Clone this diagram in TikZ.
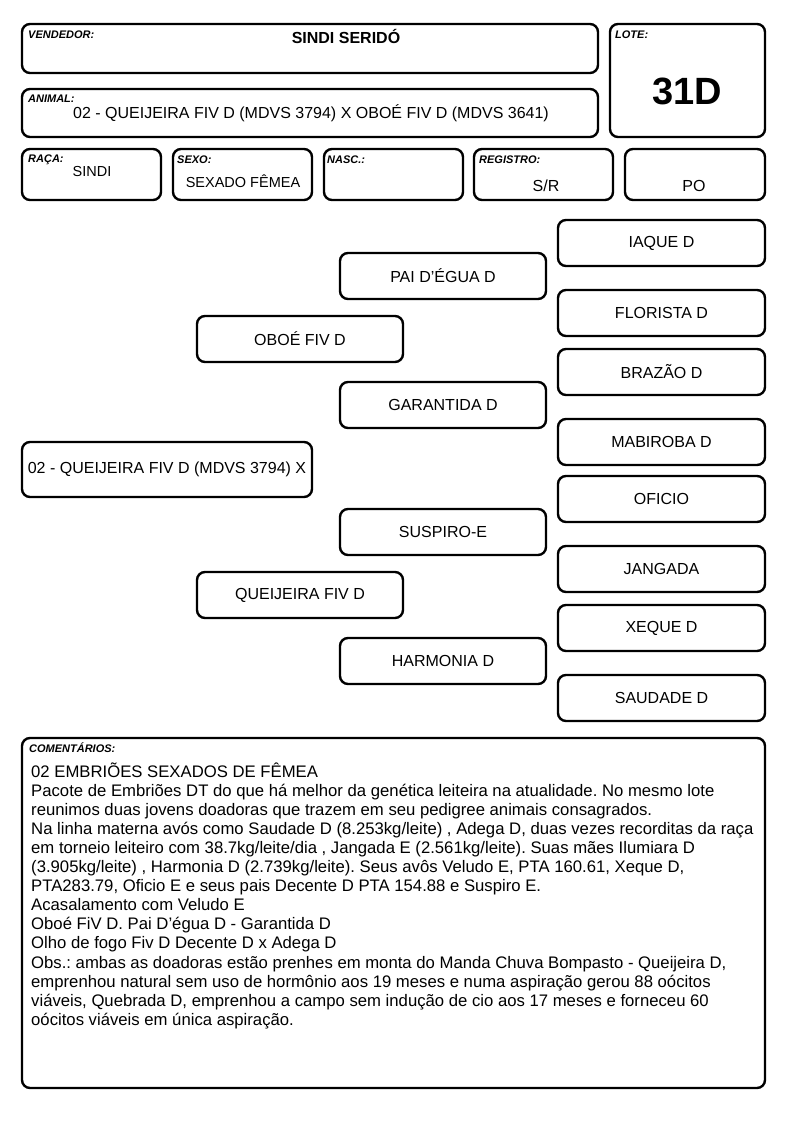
\documentclass[tikz,border=0pt]{standalone}
\usepackage{fontspec}
\setmainfont{Liberation Sans}
\begin{document}
\frenchspacing
\begin{tikzpicture}[x=1pt,y=-1pt,
  box/.style={draw, line width=2.4pt, rounded corners=8pt, inner sep=0pt},
  lab/.style={anchor=base west, inner sep=0pt, font=\fontsize{11}{13}\selectfont\bfseries\itshape},
  val/.style={inner sep=0pt, font=\fontsize{16}{19}\selectfont},
  sval/.style={inner sep=0pt, font=\fontsize{14.5}{17}\selectfont},
  cline/.style={anchor=base west, inner sep=0pt, font=\fontsize{16.7}{19}\selectfont},
  ped/.style={box, minimum width=206pt, minimum height=46pt, font=\fontsize{16}{19}\selectfont}]
\useasboundingbox (0,0) rectangle (794,1123);
% header boxes
\node[box, minimum width=576pt, minimum height=49pt] (vend) at (310,48.5) {};
\node[box, minimum width=155pt, minimum height=113pt] (lote) at (687.5,80.5) {};
\node[box, minimum width=576pt, minimum height=48pt] (animal) at (310,113) {};
\node[box, minimum width=139pt, minimum height=51pt] (raca) at (91.5,174.5) {};
\node[box, minimum width=139pt, minimum height=51pt] (sexo) at (242.5,174.5) {};
\node[box, minimum width=139pt, minimum height=51pt] (nasc) at (393.5,174.5) {};
\node[box, minimum width=139pt, minimum height=51pt] (reg) at (543.5,174.5) {};
\node[box, minimum width=140pt, minimum height=51pt] (po) at (695,174.5) {};
% header labels
\node[lab] (lvend) at (28,39) {VENDEDOR:};
\node[anchor=base, inner sep=0pt, font=\fontsize{16}{19}\selectfont\bfseries] (tvend) at (346,44) {SINDI SERIDÓ};
\node[lab] (llote) at (615,39) {LOTE:};
\node[anchor=base, inner sep=0pt, font=\fontsize{38}{44}\selectfont\bfseries] (tlote) at (687,105) {31D};
\node[lab] (lanimal) at (28,103) {ANIMAL:};
\node[val, anchor=base] (tanimal) at (311,119) {02 - QUEIJEIRA FIV D (MDVS 3794) X OBOÉ FIV D (MDVS 3641)};
\node[lab] (lraca) at (28,163) {RAÇA:};
\node[sval, anchor=base] (traca) at (92,177) {SINDI};
\node[lab] (lsexo) at (177,164) {SEXO:};
\node[sval, anchor=base] (tsexo) at (243,188) {SEXADO FÊMEA};
\node[lab] (lnasc) at (327,164) {NASC.:};
\node[lab] (lreg) at (479,164) {REGISTRO:};
\node[val, anchor=base] (treg) at (546,192) {S/R};
\node[val, anchor=base] (tpo) at (694,192) {PO};
% pedigree
\node[box, minimum width=290pt, minimum height=55pt, font=\fontsize{16}{19}\selectfont] (root) at (167,469.5) {02 - QUEIJEIRA FIV D (MDVS 3794) X};
\node[ped] (oboe) at (300,339) {OBOÉ FIV D};
\node[ped] (queij) at (300,595) {QUEIJEIRA FIV D};
\node[ped] (pai) at (443,276) {PAI D'ÉGUA D};
\node[ped] (garant) at (443,405) {GARANTIDA D};
\node[ped] (susp) at (443,532) {SUSPIRO-E};
\node[ped] (harm) at (443,661) {HARMONIA D};
\node[ped, minimum width=207pt] (iaque) at (661.5,243) {IAQUE D};
\node[ped, minimum width=207pt] (flor) at (661.5,313) {FLORISTA D};
\node[ped, minimum width=207pt] (braz) at (661.5,372) {BRAZÃO D};
\node[ped, minimum width=207pt] (mabi) at (661.5,442) {MABIROBA D};
\node[ped, minimum width=207pt] (ofic) at (661.5,499) {OFICIO};
\node[ped, minimum width=207pt] (jang) at (661.5,569) {JANGADA};
\node[ped, minimum width=207pt] (xeque) at (661.5,628) {XEQUE D};
\node[ped, minimum width=207pt] (saud) at (661.5,698) {SAUDADE D};
% comments
\node[box, minimum width=743pt, minimum height=350pt] (coment) at (393.5,913) {};
\node[lab] (lcoment) at (29,752) {COMENTÁRIOS:};
\foreach \t [count=\i] in {
  {02 EMBRIÕES SEXADOS DE FÊMEA},
  {Pacote de Embriões DT do que há melhor da genética leiteira na atualidade. No mesmo lote},
  {reunimos duas jovens doadoras que trazem em seu pedigree animais consagrados.},
  {Na linha materna avós como Saudade D (8.253kg/leite) , Adega D, duas vezes recorditas da raça},
  {em torneio leiteiro com 38.7kg/leite/dia , Jangada E (2.561kg/leite). Suas mães Ilumiara D},
  {(3.905kg/leite) , Harmonia D (2.739kg/leite). Seus avôs Veludo E, PTA 160.61, Xeque D,},
  {PTA283.79, Oficio E e seus pais Decente D PTA 154.88 e Suspiro E.},
  {Acasalamento com Veludo E},
  {Oboé FiV D. Pai D’égua D - Garantida D},
  {Olho de fogo Fiv D Decente D x Adega D},
  {Obs.: ambas as doadoras estão prenhes em monta do Manda Chuva Bompasto - Queijeira D,},
  {emprenhou natural sem uso de hormônio aos 19 meses e numa aspiração gerou 88 oócitos},
  {viáveis, Quebrada D, emprenhou a campo sem indução de cio aos 17 meses e forneceu 60},
  {oócitos viáveis em única aspiração.}}
  \node[cline] (c\i) at (31,{777+(\i-1)*19.1}) {\t};
\end{tikzpicture}
\end{document}
